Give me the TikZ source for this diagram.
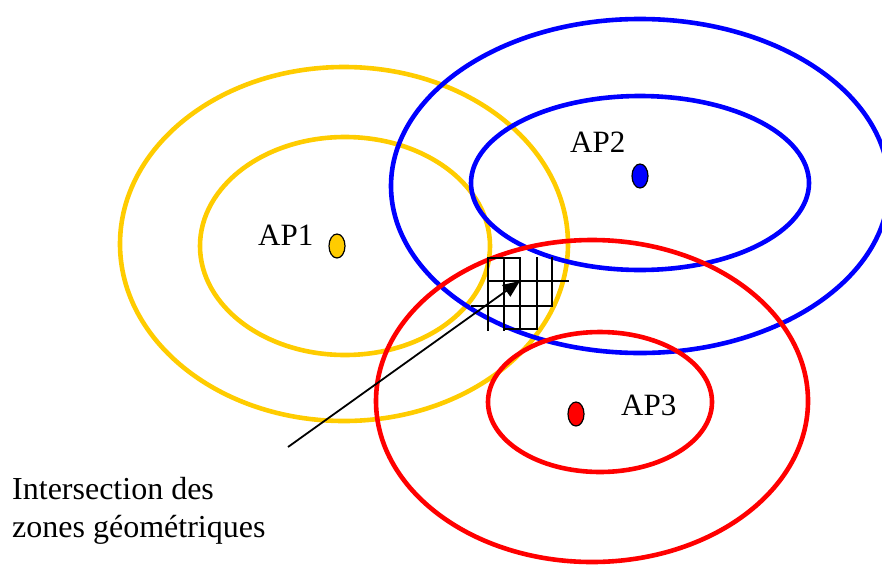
\documentclass[tikz,border=0pt]{standalone}
\usepackage{fontspec}
\setmainfont{Liberation Serif}
\usetikzlibrary{shapes.geometric,arrows.meta}
\definecolor{apyellow}{HTML}{FFCC00}
\definecolor{apblue}{HTML}{0000FF}
\definecolor{apred}{HTML}{FF0000}
\begin{document}
\begin{tikzpicture}[x=1pt,y=-1pt,
  zone/.style={line width=4.6pt},
  apdot/.style={ellipse,draw=black,line width=1.2pt,inner sep=0pt,minimum width=16pt,minimum height=24pt},
  lbl/.style={font=\fontsize{31}{37}\selectfont,inner sep=0pt,anchor=base west},
  caption/.style={font=\fontsize{32}{38}\selectfont,inner sep=0pt,anchor=base west},
  gridline/.style={line width=2pt,black,line cap=rect}]
\useasboundingbox (0,0) rectangle (882,565);

% coverage zones
\draw[zone,apyellow] (344,244) ellipse [x radius=224, y radius=177];
\draw[zone,apyellow] (345,246) ellipse [x radius=145, y radius=109];
\draw[zone,apblue] (640,186) ellipse [x radius=249, y radius=167];
\draw[zone,apblue] (640,183) ellipse [x radius=169, y radius=87];
\draw[zone,apred] (592,401) ellipse [x radius=216, y radius=161];
\draw[zone,apred] (600,402) ellipse [x radius=112, y radius=70];

% access points
\node[apdot,fill=apyellow] (ap1) at (337,246) {};
\node[apdot,fill=apblue] (ap2) at (640,176) {};
\node[apdot,fill=apred] (ap3) at (576,414) {};
\node[lbl] (l1) at (258,245) {AP1};
\node[lbl] (l2) at (570,152) {AP2};
\node[lbl] (l3) at (621,415) {AP3};

% intersection grid
\draw[gridline] (488,258) -- (520,258);
\draw[gridline] (488,281) -- (568,281);
\draw[gridline] (472,306) -- (552,306);
\draw[gridline] (504,329) -- (537,329);
\draw[gridline] (488,258) -- (488,330);
\draw[gridline] (504,258) -- (504,330);
\draw[gridline] (520,258) -- (520,329);
\draw[gridline] (537,258) -- (537,329);
\draw[gridline] (552,258) -- (552,306);

% pointer to the intersection
\coordinate (tail) at (288,447);
\coordinate (tip) at (520,281);
\draw[line width=1.8pt,-{Triangle[length=17pt,width=14pt]}] (tail) -- (tip);

% caption
\node[caption] (c1) at (12,499) {Intersection des};
\node[caption] (c2) at (12,537) {zones géométriques};
\end{tikzpicture}
\end{document}
